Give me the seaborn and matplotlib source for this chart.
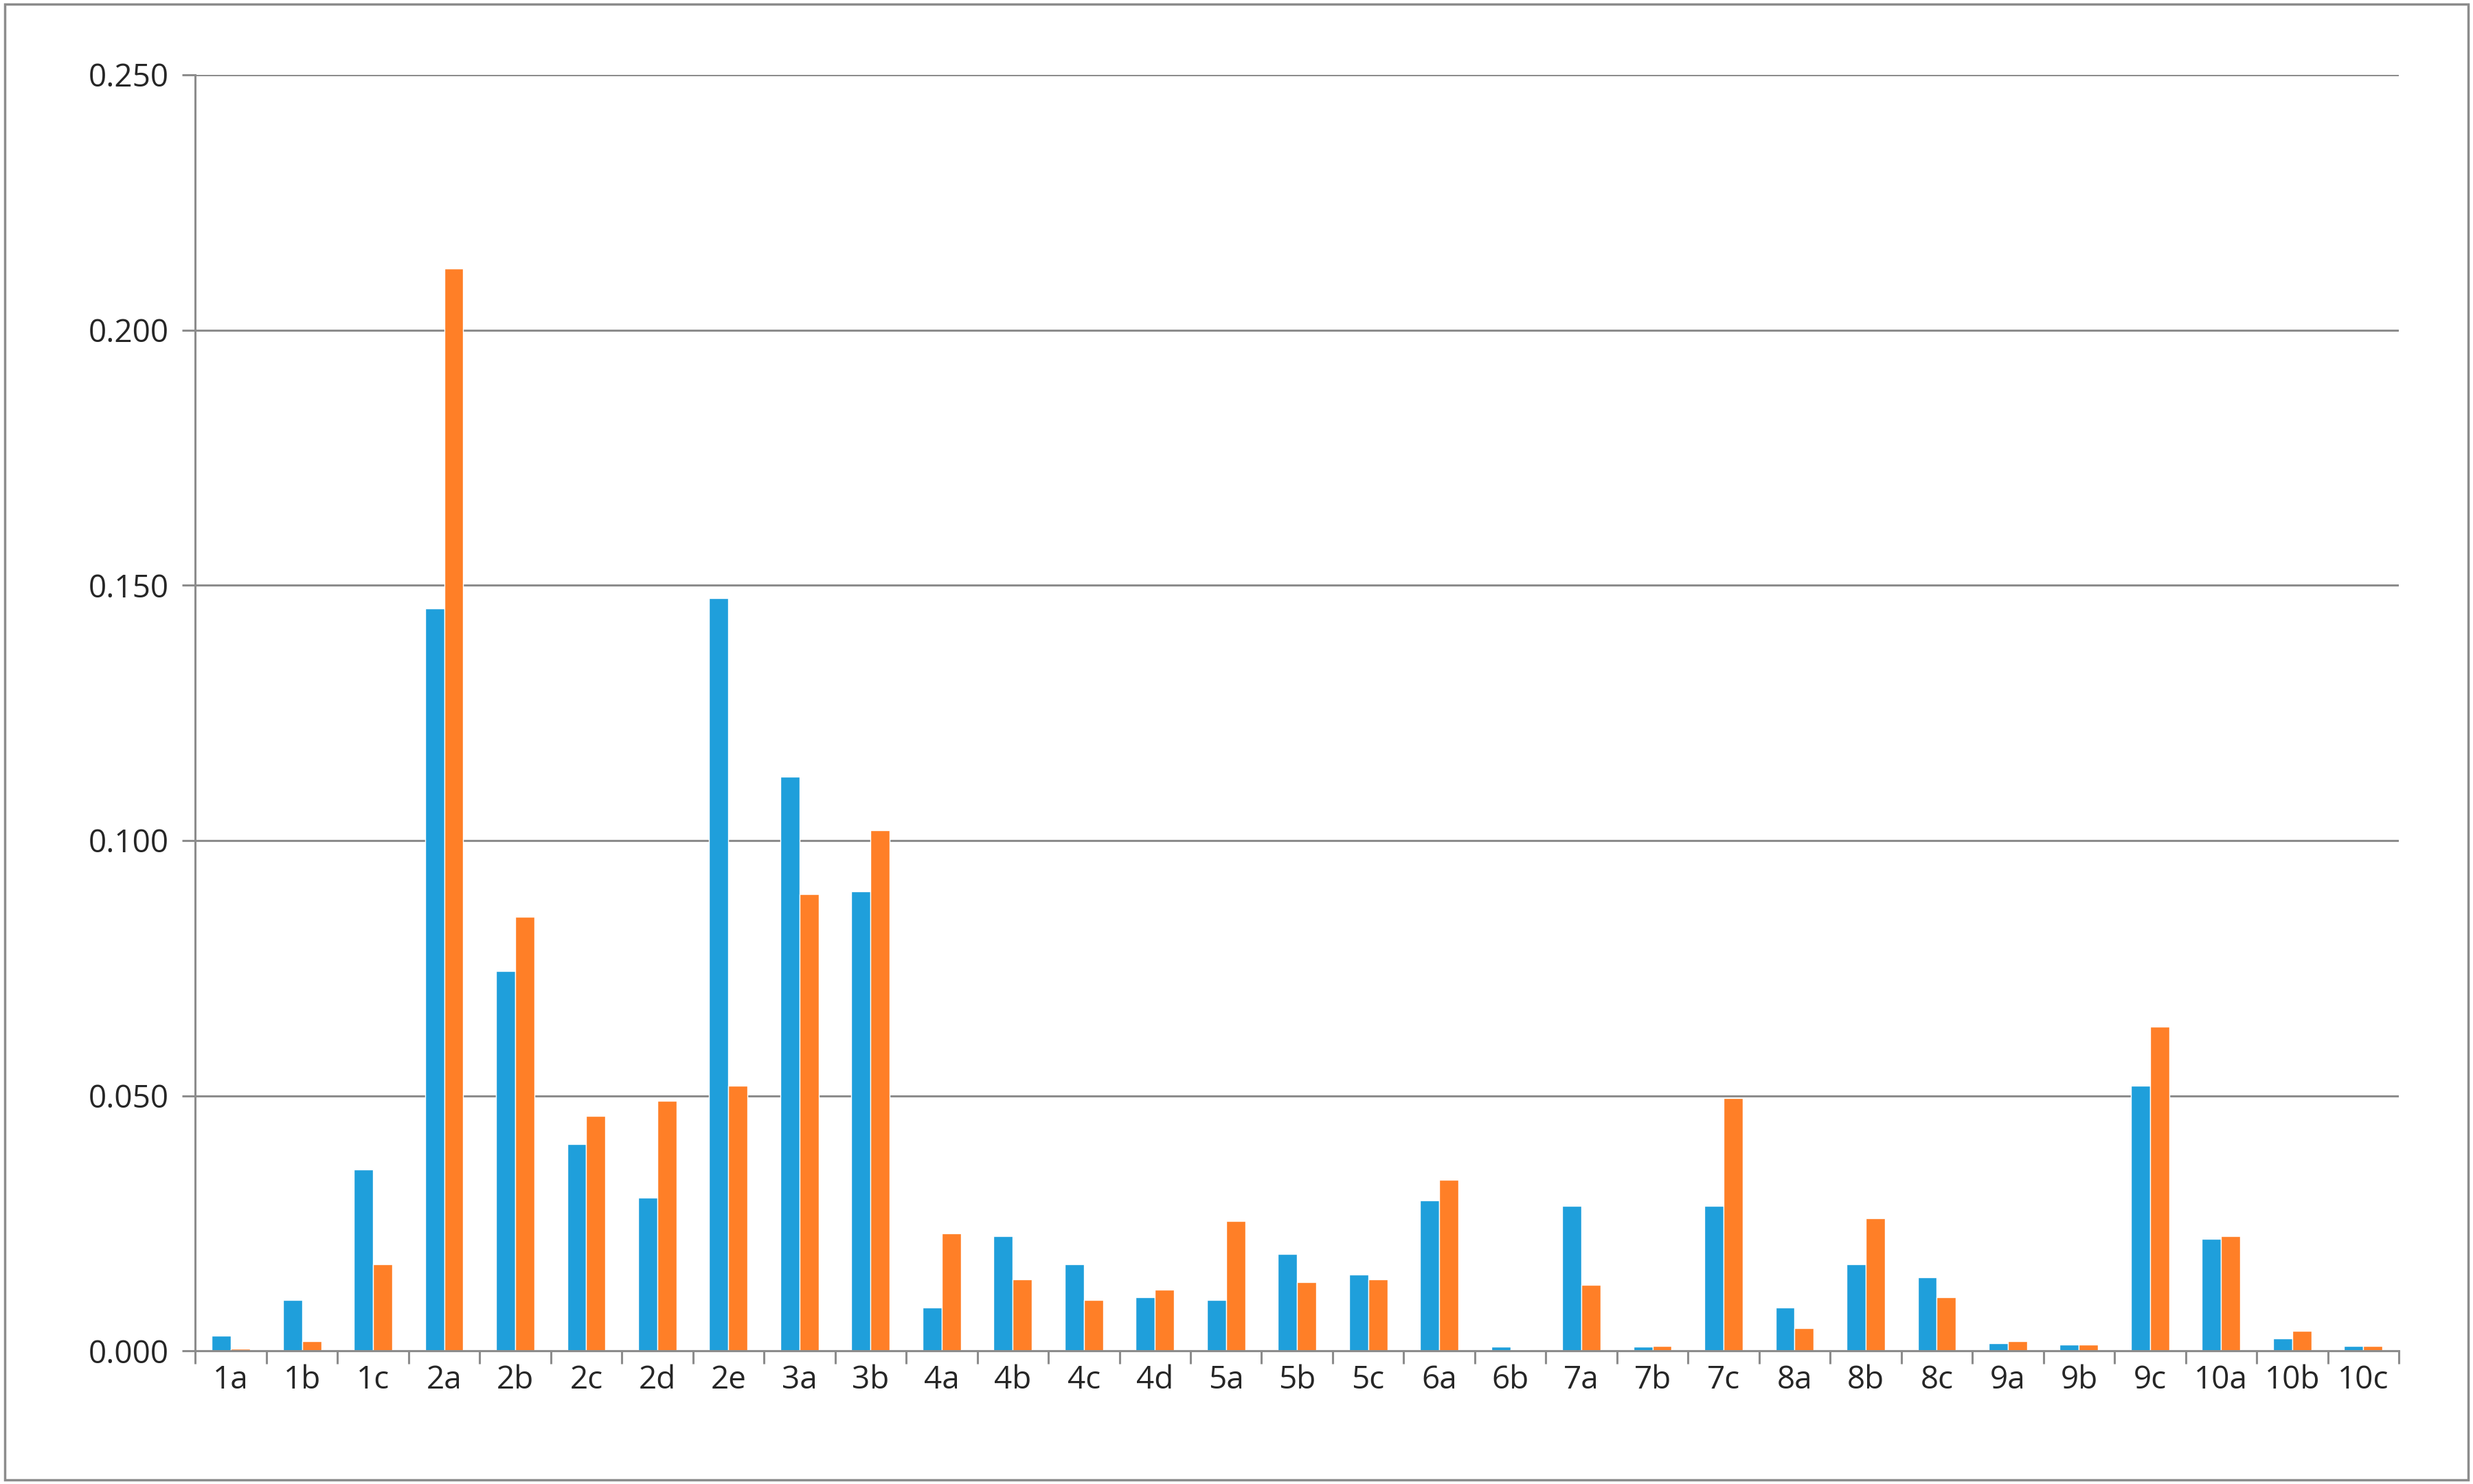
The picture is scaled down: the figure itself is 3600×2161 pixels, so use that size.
import matplotlib
matplotlib.use("Agg")
import matplotlib.pyplot as plt
import seaborn as sns
import pandas as pd
from matplotlib.patches import Rectangle

categories = ["1a","1b","1c","2a","2b","2c","2d","2e","3a","3b","4a","4b","4c","4d","5a","5b","5c","6a","6b","7a","7b","7c","8a","8b","8c","9a","9b","9c","10a","10b","10c"]
series_a = [0.003,0.010,0.0355,0.1455,0.0745,0.0405,0.030,0.1475,0.1125,0.090,0.0085,0.0225,0.017,0.0105,0.010,0.019,0.015,0.0295,0.0008,0.0285,0.0008,0.0285,0.0085,0.017,0.0145,0.0015,0.0012,0.052,0.022,0.0025,0.001]
series_b = [0.0005,0.002,0.017,0.212,0.085,0.046,0.049,0.052,0.0895,0.102,0.023,0.014,0.010,0.012,0.0255,0.0135,0.014,0.0335,0.0003,0.013,0.001,0.0495,0.0045,0.026,0.0105,0.002,0.0012,0.0635,0.0225,0.004,0.001]
yticks = [0.0,0.05,0.10,0.15,0.20,0.25]

df = pd.DataFrame({"cat": categories*2, "val": series_a+series_b,
                   "s": ["A"]*len(categories)+["B"]*len(categories)})

sns.set_theme(style="white")
plt.rcParams['font.family'] = ['Open Sans', 'DejaVu Sans']
fig = plt.figure(figsize=(36, 21.61), dpi=100)
ax = fig.add_axes([0.079, 0.0896, 0.891, 0.860])
sns.barplot(data=df, x="cat", y="val", hue="s", palette=["#1f9fdb", "#ff7f27"],
            width=0.54, gap=0, legend=False, ax=ax, saturation=1)
ax.set_ylim(0, 0.25)
ax.set_xlim(-0.5, len(categories)-0.5)
ax.set_yticks(yticks)
ax.set_yticklabels([f"{v:.3f}" for v in yticks], fontsize=33)
ax.tick_params(axis='x', labelsize=33, length=0, pad=14)
ax.tick_params(axis='y', pad=14)
ax.set_xlabel(""); ax.set_ylabel("")
ax.yaxis.grid(True, color="#8c8c8c", linewidth=2.2)
ax.set_axisbelow(True)
for s in ["top", "right"]:
    ax.spines[s].set_visible(False)
for s in ["left", "bottom"]:
    ax.spines[s].set_color("#8c8c8c"); ax.spines[s].set_linewidth(2.2)
ax.set_xticks([i - 0.5 for i in range(len(categories)+1)], minor=True)
ax.tick_params(axis='x', which='minor', length=14, width=2.2, color="#8c8c8c", bottom=True)
ax.tick_params(axis='y', which='major', length=14, width=2.2, color="#8c8c8c", left=True)
fig.patches.append(Rectangle((0.002, 0.003), 0.996, 0.994, transform=fig.transFigure,
                             fill=False, edgecolor="#8c8c8c", linewidth=2.5))
fig.savefig("out.png", dpi=100, facecolor="white")
